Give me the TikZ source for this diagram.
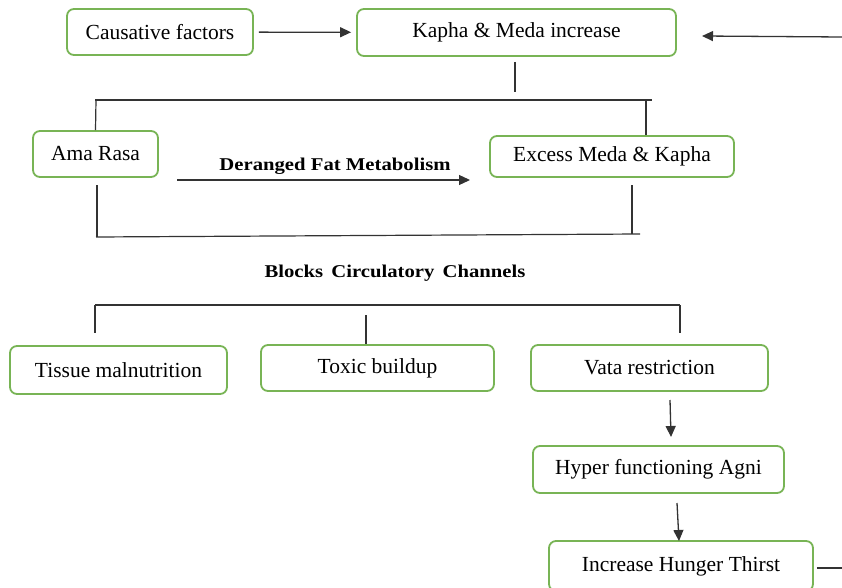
\documentclass[tikz,border=0pt]{standalone}
\usepackage{fontspec}
\setmainfont{Liberation Serif}
\newfontfamily\widebold[FakeStretch=1.15]{Liberation Serif Bold}
\usetikzlibrary{arrows.meta}
\definecolor{boxgreen}{HTML}{78B455}
\definecolor{lncol}{HTML}{333333}
\tikzset{
  box/.style={draw=boxgreen, line width=1.8pt, rounded corners=7pt, fill=white,
    inner sep=0pt, font=\fontsize{21.5}{25}\selectfont, text=black},
  arr/.style={draw=lncol, line width=1.3pt, -{Triangle[length=11pt,width=10pt]}},
  ln/.style={draw=lncol, line width=1.2pt},
  lbl/.style={font=\widebold\fontsize{18}{21}\selectfont, inner sep=0pt}
}
\begin{document}
\begin{tikzpicture}[x=1pt,y=-1pt]
\useasboundingbox (0,0) rectangle (842,588);

% boxes
\node[box, minimum width=186pt, minimum height=46pt] (cf) at (160,32) {Causative factors};
\node[box, minimum width=319pt, minimum height=47pt] (kmi) at (516.5,32.5) {Kapha \& Meda increase};
\node[box, minimum width=125pt, minimum height=46pt] (ama) at (95.5,154) {Ama Rasa};
\node[box, minimum width=244pt, minimum height=41pt] (emk) at (612,156.5) {Excess Meda \& Kapha};
\node[box, minimum width=217pt, minimum height=48pt] (tm) at (118.5,370) {Tissue malnutrition};
\node[box, minimum width=233pt, minimum height=46pt] (tb) at (377.5,368) {Toxic buildup};
\node[box, minimum width=237pt, minimum height=46pt] (vr) at (649.5,368) {Vata restriction};
\node[box, minimum width=251pt, minimum height=47pt] (hfa) at (658.5,469.5) {Hyper functioning Agni};
\node[box, minimum width=264pt, minimum height=50pt] (iht) at (681,566) {Increase Hunger Thirst};

% labels
\node[lbl] (dfm) at (335,166) {Deranged Fat Metabolism};
\node[lbl] (bcc) at (395,273) {Blocks\hspace{3pt} Circulatory\hspace{3pt} Channels};

% coordinates
\coordinate (fbin) at (842,37);
\coordinate (fbout) at (702,36);
\coordinate (k1) at (515,62);
\coordinate (k2) at (515,92);
\coordinate (t1l) at (95,100);
\coordinate (t1r) at (652,100);
\coordinate (d1) at (177,180);
\coordinate (d2) at (470,180);
\coordinate (b1l) at (97,185);
\coordinate (b1r) at (632,185);
\coordinate (h1l) at (96,237);
\coordinate (h1r) at (640,234);
\coordinate (t2l) at (95,305);
\coordinate (t2r) at (680,305);
\coordinate (m1) at (366,315);
\coordinate (v1) at (670,400);
\coordinate (v2) at (671,437);
\coordinate (a1) at (677,503);
\coordinate (a2) at (679,541);
\coordinate (ihout) at (842,568);

% connectors
\draw[arr, shorten <=5pt, shorten >=5pt] (cf) -- (kmi);
\draw[arr] (fbin) -- (fbout);
\draw[ln] (k1) -- (k2);
\draw[ln] (t1l) -- (t1r);
\draw[ln] (96,100) -- (ama.north);
\draw[ln] (646,100) -- (emk.north -| 646,0);
\draw[arr] (d1) -- (d2);
\draw[ln] (b1l) -- (b1l |- h1l);
\draw[ln] (b1r) -- (b1r |- h1r);
\draw[ln] (h1l) -- (h1r);
\draw[ln] (t2l) -- (t2r);
\draw[ln] (t2l) -- (t2l |- 0,333);
\draw[ln] (t2r) -- (t2r |- 0,333);
\draw[ln] (m1) -- (m1 |- tb.north);
\draw[arr] (v1) -- (v2);
\draw[arr] (a1) -- (a2);
\draw[ln] ([xshift=3pt]iht.east |- ihout) -- (ihout);
\end{tikzpicture}
\end{document}
